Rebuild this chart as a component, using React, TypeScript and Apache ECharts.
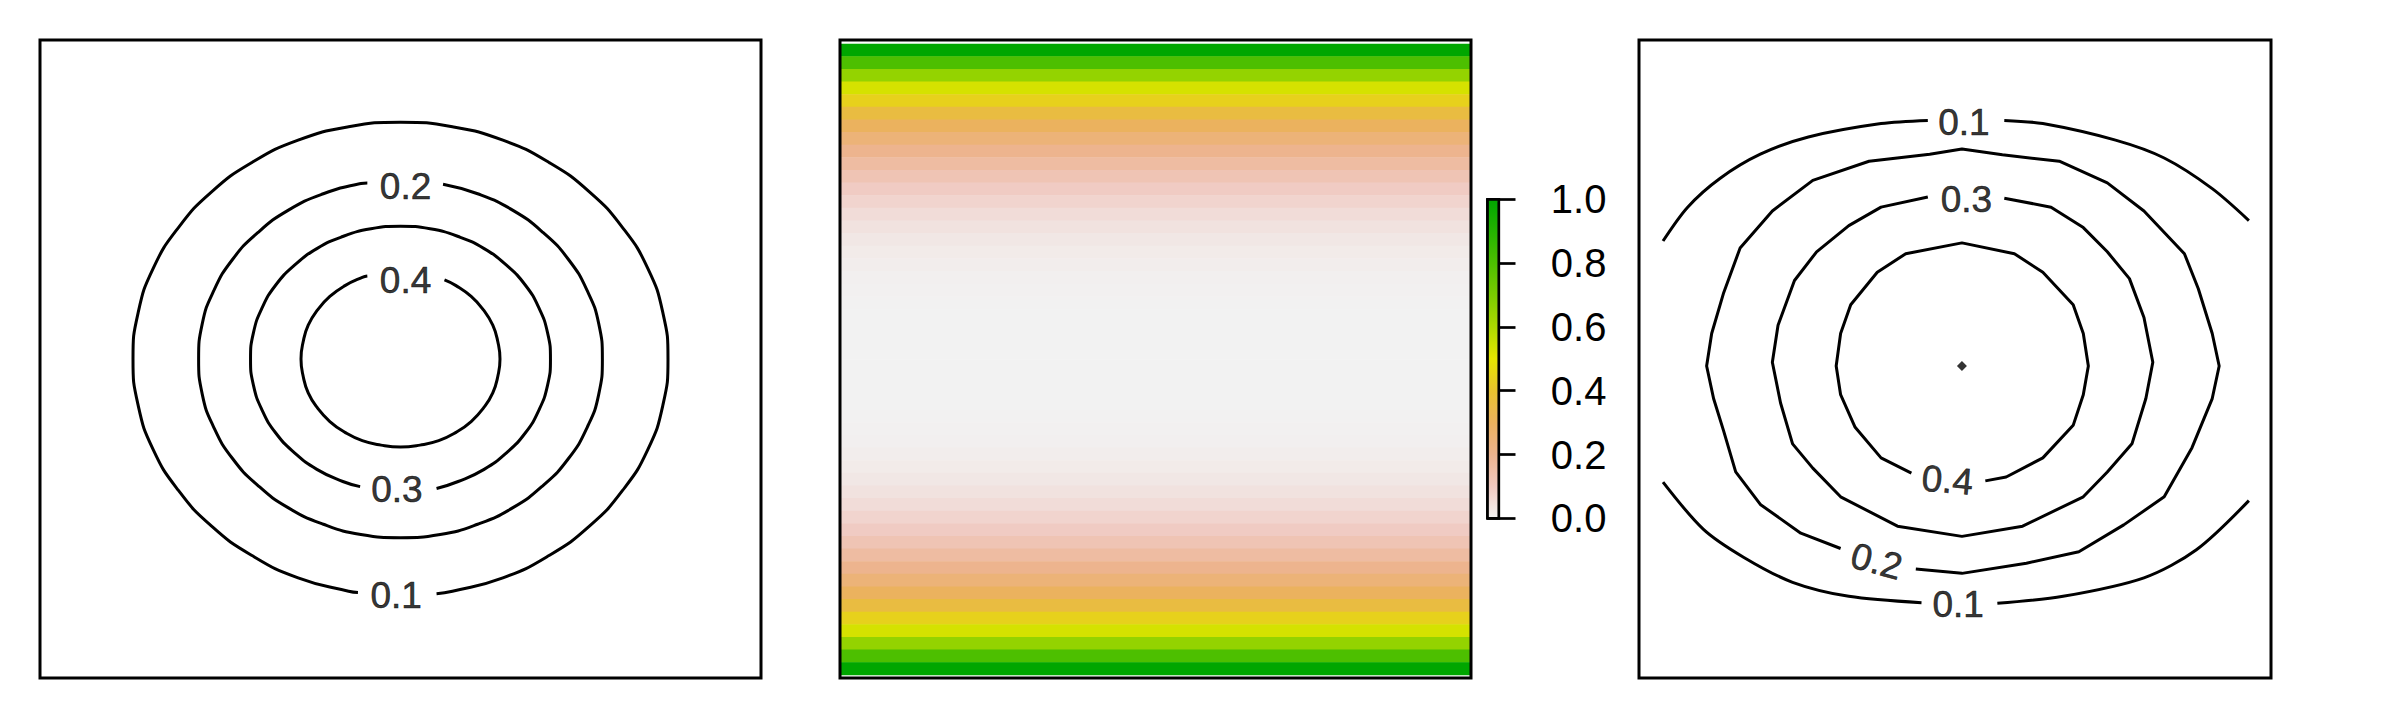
import React, { useEffect, useRef } from "react";
import * as echarts from "echarts";

// ---------- Left panel: contour lines (data units 0..1), gaps where labels sit ----------
const leftC01: number[][] = [
  [0.55, 0.132], [0.572, 0.136], [0.642, 0.157], [0.706, 0.192], [0.762, 0.238],
  [0.808, 0.294], [0.843, 0.358], [0.864, 0.428], [0.871, 0.5], [0.864, 0.572],
  [0.843, 0.642], [0.808, 0.706], [0.762, 0.762], [0.706, 0.808], [0.642, 0.843],
  [0.572, 0.864], [0.5, 0.871], [0.428, 0.864], [0.358, 0.843], [0.294, 0.808],
  [0.238, 0.762], [0.192, 0.706], [0.157, 0.642], [0.136, 0.572], [0.129, 0.5],
  [0.136, 0.428], [0.157, 0.358], [0.192, 0.294], [0.238, 0.238], [0.294, 0.192],
  [0.358, 0.157], [0.428, 0.136], [0.441, 0.134],
];
const leftC02: number[][] = [
  [0.454, 0.776], [0.445, 0.775], [0.393, 0.759], [0.344, 0.733], [0.302, 0.698],
  [0.267, 0.656], [0.241, 0.607], [0.225, 0.555], [0.22, 0.5], [0.225, 0.445],
  [0.241, 0.393], [0.267, 0.344], [0.302, 0.302], [0.344, 0.267], [0.393, 0.241],
  [0.445, 0.225], [0.5, 0.22], [0.555, 0.225], [0.607, 0.241], [0.656, 0.267],
  [0.698, 0.302], [0.733, 0.344], [0.759, 0.393], [0.775, 0.445], [0.78, 0.5],
  [0.775, 0.555], [0.759, 0.607], [0.733, 0.656], [0.698, 0.698], [0.656, 0.733],
  [0.607, 0.759], [0.559, 0.774],
];
const leftC03: number[][] = [
  [0.55, 0.297], [0.58, 0.308], [0.616, 0.327], [0.647, 0.353], [0.673, 0.384],
  [0.692, 0.42], [0.704, 0.459], [0.708, 0.5], [0.704, 0.541], [0.692, 0.58],
  [0.673, 0.616], [0.647, 0.647], [0.616, 0.673], [0.58, 0.692], [0.541, 0.704],
  [0.5, 0.708], [0.459, 0.704], [0.42, 0.692], [0.384, 0.673], [0.353, 0.647],
  [0.327, 0.616], [0.308, 0.58], [0.296, 0.541], [0.292, 0.5], [0.296, 0.459],
  [0.308, 0.42], [0.327, 0.384], [0.353, 0.353], [0.384, 0.327], [0.42, 0.308],
  [0.444, 0.3],
];
const leftC04: number[][] = [
  [0.454, 0.63], [0.447, 0.628], [0.423, 0.615], [0.402, 0.598], [0.385, 0.577],
  [0.372, 0.553], [0.365, 0.527], [0.362, 0.5], [0.365, 0.473], [0.372, 0.447],
  [0.385, 0.423], [0.402, 0.402], [0.423, 0.385], [0.447, 0.372], [0.473, 0.365],
  [0.5, 0.362], [0.527, 0.365], [0.553, 0.372], [0.577, 0.385], [0.598, 0.402],
  [0.615, 0.423], [0.628, 0.447], [0.635, 0.473], [0.638, 0.5], [0.635, 0.527],
  [0.628, 0.553], [0.615, 0.577], [0.598, 0.598], [0.577, 0.615], [0.561, 0.624],
];
const leftLabels = [
  { text: "0.1", x: 0.494, y: 0.13, rot: 0 },
  { text: "0.2", x: 0.507, y: 0.771, rot: 0 },
  { text: "0.3", x: 0.495, y: 0.295, rot: 0 },
  { text: "0.4", x: 0.507, y: 0.623, rot: 0 },
];

// ---------- Middle panel: image rows (top to bottom) ----------
const heatRows: number[] = [
  1.0, 0.8, 0.65, 0.53, 0.44, 0.36, 0.3, 0.245, 0.2, 0.16,
  0.125, 0.095, 0.072, 0.053, 0.038, 0.027, 0.018, 0.012, 0.007, 0.004,
  0.002, 0.001, 0.0, 0.0, 0.0,
  0.0, 0.0, 0.0, 0.001, 0.002,
  0.004, 0.007, 0.012, 0.018, 0.027, 0.038, 0.053, 0.072, 0.095, 0.125,
  0.16, 0.2, 0.245, 0.3, 0.36, 0.44, 0.53, 0.65, 0.8, 1.0,
];
const colorbarTicks = [0, 0.2, 0.4, 0.6, 0.8, 1.0];
// terrain palette, low -> high
const terrainStops = [
  "#F2F2F2", "#F0C9C0", "#EDB48E", "#EBB25E", "#E8C32E", "#E6E600",
  "#ADD900", "#7ACC00", "#4DBF00", "#24B300", "#00A600",
];

// ---------- Right panel: contour lines ----------
const rightC01TopA: number[][] = [
  [0.038, 0.685], [0.077, 0.738], [0.128, 0.783], [0.192, 0.821], [0.268, 0.848],
  [0.383, 0.869], [0.457, 0.874],
];
const rightC01TopB: number[][] = [
  [0.578, 0.874], [0.639, 0.869], [0.754, 0.843], [0.831, 0.815], [0.907, 0.767],
  [0.965, 0.717],
];
const rightC01BotA: number[][] = [
  [0.038, 0.307], [0.102, 0.233], [0.166, 0.189], [0.243, 0.15], [0.332, 0.128],
  [0.447, 0.118],
];
const rightC01BotB: number[][] = [
  [0.567, 0.117], [0.671, 0.128], [0.799, 0.157], [0.882, 0.201], [0.965, 0.278],
];
const rightC02: number[][] = [
  [0.438, 0.171], [0.511, 0.164], [0.613, 0.18], [0.696, 0.198], [0.767, 0.24],
  [0.831, 0.284], [0.875, 0.361], [0.907, 0.438], [0.918, 0.489], [0.907, 0.54],
  [0.885, 0.61], [0.863, 0.665], [0.799, 0.732], [0.741, 0.776], [0.665, 0.81],
  [0.575, 0.82], [0.511, 0.829], [0.46, 0.821], [0.364, 0.81], [0.275, 0.78],
  [0.211, 0.732], [0.16, 0.674], [0.134, 0.604], [0.115, 0.54], [0.107, 0.489],
  [0.118, 0.438], [0.134, 0.387], [0.153, 0.323], [0.192, 0.272], [0.256, 0.227],
  [0.319, 0.203],
];
const rightC03: number[][] = [
  [0.578, 0.752], [0.652, 0.738], [0.703, 0.706], [0.741, 0.668], [0.776, 0.626],
  [0.799, 0.565], [0.813, 0.495], [0.802, 0.438], [0.78, 0.367], [0.741, 0.323],
  [0.703, 0.284], [0.607, 0.238], [0.511, 0.222], [0.409, 0.238], [0.319, 0.284],
  [0.275, 0.329], [0.243, 0.367], [0.224, 0.431], [0.211, 0.495], [0.22, 0.553],
  [0.246, 0.623], [0.281, 0.668], [0.332, 0.709], [0.383, 0.738], [0.457, 0.754],
];
const rightC04: number[][] = [
  [0.548, 0.309], [0.581, 0.315], [0.639, 0.345], [0.687, 0.396], [0.703, 0.444],
  [0.711, 0.489], [0.703, 0.54], [0.687, 0.585], [0.639, 0.636], [0.594, 0.665],
  [0.511, 0.682], [0.422, 0.665], [0.377, 0.636], [0.335, 0.585], [0.319, 0.54],
  [0.312, 0.489], [0.319, 0.444], [0.342, 0.393], [0.383, 0.345], [0.431, 0.321],
];
const rightPeak: number[][] = [[0.511, 0.489]];
const rightLabels = [
  { text: "0.1", x: 0.514, y: 0.87, rot: 0 },
  { text: "0.3", x: 0.518, y: 0.75, rot: 0 },
  { text: "0.4", x: 0.488, y: 0.31, rot: -5 },
  { text: "0.2", x: 0.376, y: 0.183, rot: -15 },
  { text: "0.1", x: 0.505, y: 0.115, rot: 0 },
];

const FONT = "'Liberation Sans', Arial, sans-serif";

export default function App() {
  const ref = useRef<HTMLDivElement>(null);

  useEffect(() => {
    if (!ref.current) return;
    const chart = echarts.init(ref.current, undefined, { renderer: "svg" });

    const lineStyle = { color: "#000", width: 3 };
    const contour = (data: number[][], axis: number, smooth: boolean | number) => ({
      type: "line",
      xAxisIndex: axis,
      yAxisIndex: axis,
      data,
      symbol: "none",
      smooth,
      silent: true,
      lineStyle,
      z: 3,
    });
    const labels = (items: { text: string; x: number; y: number; rot: number }[], axis: number) => ({
      type: "scatter",
      xAxisIndex: axis,
      yAxisIndex: axis,
      symbolSize: 1,
      silent: true,
      itemStyle: { color: "rgba(0,0,0,0)" },
      data: items.map((d) => ({
        name: d.text,
        value: [d.x, d.y],
        label: { rotate: d.rot },
      })),
      label: {
        show: true,
        position: "inside",
        formatter: "{b}",
        fontSize: 37,
        color: "#000",
        textBorderColor: "#000",
        textBorderWidth: 0.6,
        fontFamily: FONT,
      },
      z: 4,
    });

    const rowNames = heatRows.map((_, i) => String(i));

    const series: any[] = [
      contour(leftC01, 0, true),
      contour(leftC02, 0, true),
      contour(leftC03, 0, true),
      contour(leftC04, 0, true),
      labels(leftLabels, 0),
      {
        type: "heatmap",
        xAxisIndex: 1,
        yAxisIndex: 1,
        data: heatRows.map((v, i) => [0, i, v]),
        silent: true,
        itemStyle: { borderWidth: 0 },
        emphasis: { disabled: true },
      },
      contour(rightC01TopA, 2, 0.3),
      contour(rightC01TopB, 2, 0.3),
      contour(rightC01BotA, 2, 0.3),
      contour(rightC01BotB, 2, 0.3),
      contour(rightC02, 2, false),
      contour(rightC03, 2, false),
      contour(rightC04, 2, false),
      labels(rightLabels, 2),
      {
        type: "scatter",
        xAxisIndex: 2,
        yAxisIndex: 2,
        data: rightPeak,
        symbol: "diamond",
        symbolSize: 10,
        silent: true,
        itemStyle: { color: "#000" },
        z: 4,
      },
    ];
    const heatIndex = 5;

    const hiddenValue = (g: number) => ({ gridIndex: g, type: "value", min: 0, max: 1, show: false });

    chart.setOption({
      animation: false,
      backgroundColor: "#fff",
      grid: [
        { left: 40, top: 40, width: 721, height: 638, show: true, borderColor: "#000", borderWidth: 3, backgroundColor: "transparent" },
        { left: 840, top: 44, width: 631, height: 631, show: false },
        { left: 1639, top: 40, width: 632, height: 638, show: true, borderColor: "#000", borderWidth: 3, backgroundColor: "transparent" },
        { left: 1487.5, top: 199.3, width: 11.3, height: 319, show: false },
      ],
      xAxis: [
        hiddenValue(0),
        { gridIndex: 1, type: "category", data: ["c"], show: false },
        hiddenValue(2),
        hiddenValue(3),
      ],
      yAxis: [
        hiddenValue(0),
        { gridIndex: 1, type: "category", data: rowNames, inverse: true, show: false },
        hiddenValue(2),
        {
          gridIndex: 3,
          type: "value",
          min: colorbarTicks[0],
          max: colorbarTicks[colorbarTicks.length - 1],
          interval: 0.2,
          position: "right",
          axisLine: { show: true, lineStyle: { color: "#000", width: 2.7 } },
          axisTick: { show: true, length: 28, lineStyle: { color: "#000", width: 2.7 } },
          axisLabel: {
            show: true,
            margin: 52,
            fontSize: 40,
            color: "#000",
            fontFamily: FONT,
            formatter: (v: number) => v.toFixed(1),
          },
          splitLine: { show: false },
        },
      ],
      visualMap: {
        type: "continuous",
        seriesIndex: heatIndex,
        min: 0,
        max: 1,
        calculable: false,
        hoverLink: false,
        orient: "vertical",
        left: 1488,
        top: 199.3,
        itemWidth: 10,
        itemHeight: 319,
        padding: 0,
        inRange: { color: terrainStops },
      },
      graphic: [
        {
          type: "rect",
          z: 100,
          silent: true,
          shape: { x: 840, y: 40, width: 631, height: 638 },
          style: { fill: "none", stroke: "#000", lineWidth: 3 },
        },
        {
          type: "rect",
          z: 100,
          silent: true,
          shape: { x: 1487.5, y: 199.3, width: 11.3, height: 319 },
          style: { fill: "none", stroke: "#000", lineWidth: 2.7 },
        },
      ],
      series,
    });

    return () => chart.dispose();
  }, []);

  return (
    <div
      ref={ref}
      style={{ position: "absolute", left: 0, top: 0, width: 2400, height: 720, background: "#fff" }}
    />
  );
}
